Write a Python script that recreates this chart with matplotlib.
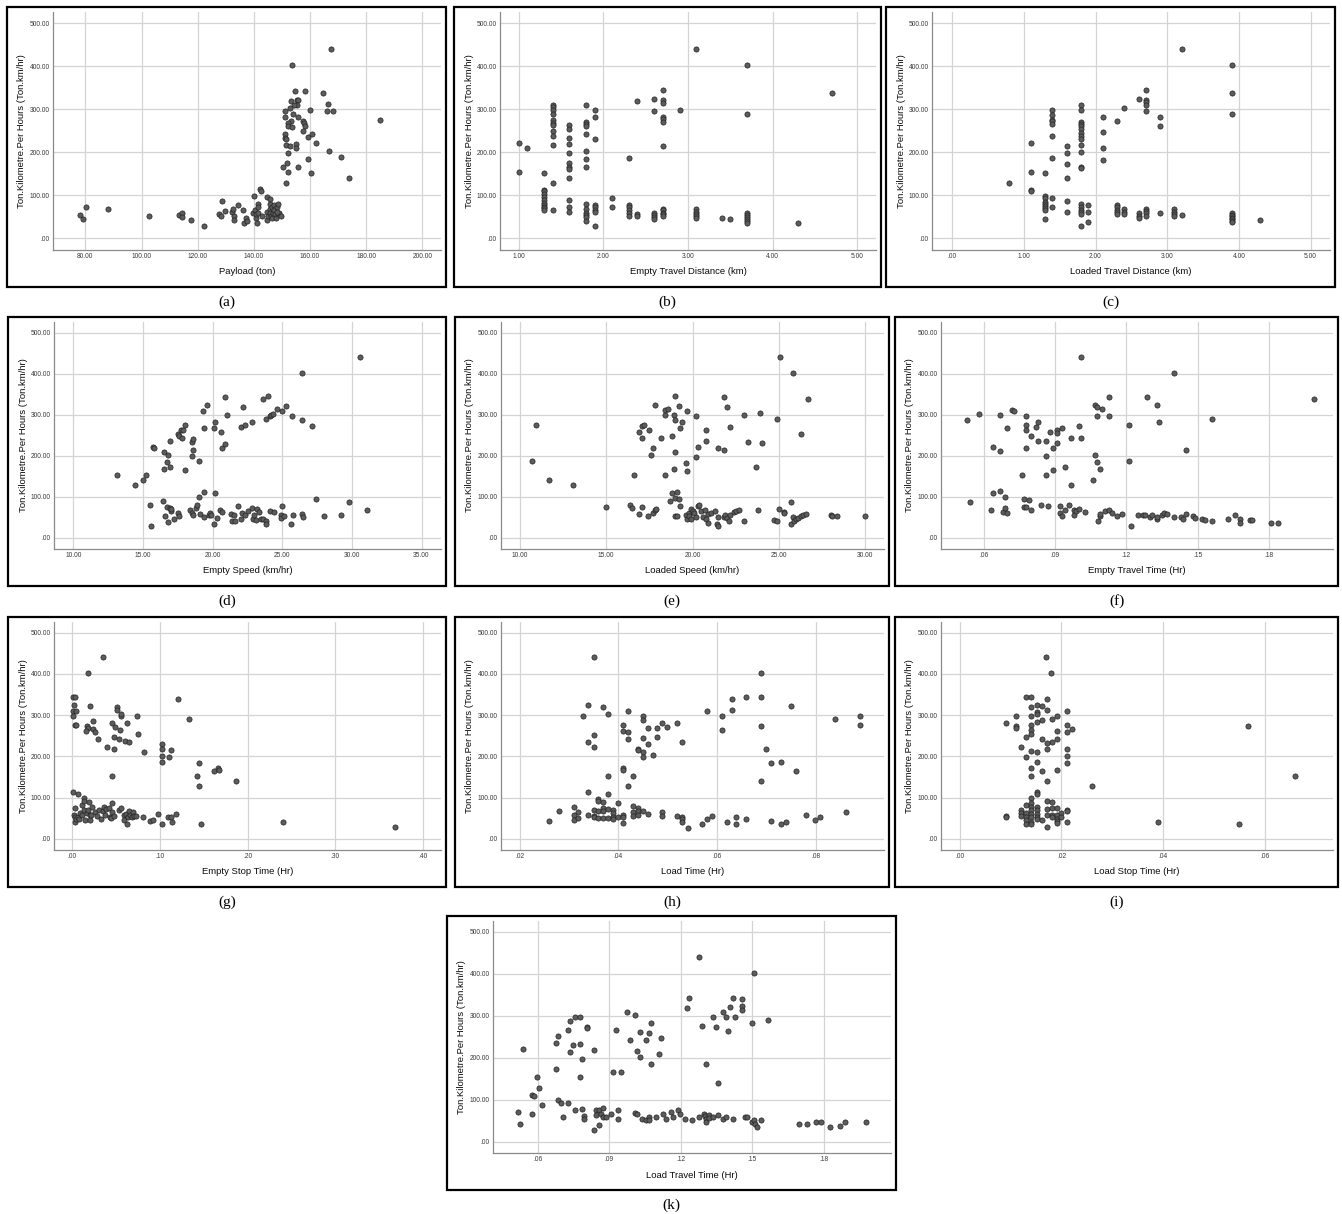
import matplotlib
matplotlib.use("Agg")
import matplotlib.pyplot as plt
from matplotlib.patches import Rectangle

# ---------------- data ----------------
Y_LABEL = "Ton.Kilometre.Per Hours (Ton.km/hr)"
y_ticks = [0, 100, 200, 300, 400, 500]

# (a) Payload (ton)
payload = [78.0, 79.1, 80.1, 88.2, 102.8, 113.3, 114.4, 114.4, 117.6, 122.4,
           127.7, 128.4, 128.8, 129.6, 132.2, 132.7, 132.9, 132.9, 134.5, 136.0,
           136.5, 137.3, 137.5, 139.6, 140.0, 140.3, 140.6, 140.8, 141.2, 141.4,
           141.4, 141.6, 142.2, 142.5, 142.8, 144.5, 144.7, 144.8, 145.2, 145.6,
           145.8, 145.6, 145.9, 146.2, 146.4, 146.6, 146.7, 147.1, 147.3, 147.5,
           147.8, 148.1, 148.5, 148.7, 149.1, 149.5, 148.1,
           167.3, 153.7, 154.6, 158.2, 164.6, 153.1, 155.2, 155.6, 155.4, 154.3,
           152.7, 151.2, 166.3, 166.1, 168.3, 159.9, 184.8, 150.9, 153.9, 155.7,
           153.1, 152.3, 152.3, 153.7, 157.6, 157.8, 158.2, 157.5, 151.2, 150.9,
           151.6, 159.1, 160.6, 162.0, 151.4, 152.7, 155.0, 154.9, 152.1, 166.7,
           171.0, 159.3, 150.4, 151.9, 155.8, 152.1, 160.3, 173.7, 151.6]
tkph_payload = [55, 44, 72, 68, 53, 55, 59, 50, 43, 29,
                57, 52, 88, 64, 62, 68, 52, 42, 78, 65,
                36, 47, 40, 60, 98, 67, 48, 56, 36, 80,
                74, 58, 114, 110, 53, 95, 43, 62, 53, 91,
                80, 68, 60, 51, 47, 72, 58, 78, 66, 56,
                47, 73, 79, 57, 60, 53, 62,
                440, 402, 343, 343, 338, 319, 322, 322, 310, 309,
                303, 297, 313, 297, 297, 298, 275, 281, 289, 281,
                272, 267, 262, 258, 273, 267, 262, 250, 243, 233,
                230, 236, 243, 222, 217, 215, 219, 211, 198, 202,
                188, 184, 167, 175, 165, 154, 153, 140, 129]

# (b) Empty Travel Distance (km)
empty_dist = [1.0, 1.0, 1.1,
              1.3, 1.3, 1.3, 1.3, 1.3, 1.3, 1.3, 1.3, 1.3, 1.3, 1.3,
              1.4, 1.4, 1.4, 1.4, 1.4, 1.4, 1.4, 1.4, 1.4, 1.4, 1.4, 1.4,
              1.6, 1.6, 1.6, 1.6, 1.6, 1.6, 1.6, 1.6, 1.6, 1.6, 1.6, 1.6,
              1.8, 1.8, 1.8, 1.8, 1.8, 1.8, 1.8, 1.8, 1.8, 1.8, 1.8, 1.8, 1.8, 1.8,
              1.9, 1.9, 1.9, 1.9, 1.9, 1.9, 1.9, 1.9,
              2.1, 2.1,
              2.3, 2.3, 2.3, 2.3, 2.3, 2.3,
              2.4, 2.4, 2.4,
              2.6, 2.6, 2.6, 2.6, 2.6, 2.6,
              2.7, 2.7, 2.7, 2.7, 2.7, 2.7, 2.7, 2.7, 2.7, 2.7, 2.7, 2.7,
              2.9,
              3.1, 3.1, 3.1, 3.1, 3.1, 3.1,
              3.4, 3.5,
              3.7, 3.7, 3.7, 3.7, 3.7, 3.7, 3.7, 3.7,
              4.3, 4.7]
tkph_empty_dist = [222, 154, 211,
                   153, 113, 110, 103, 97, 90, 83, 78, 74, 70, 67,
                   309, 305, 299, 288, 276, 269, 263, 249, 237, 218, 129, 65,
                   263, 254, 234, 219, 198, 174, 166, 162, 140, 89, 72, 61,
                   310, 270, 266, 260, 243, 203, 184, 166, 80, 68, 60, 55, 50, 40,
                   298, 281, 230, 78, 72, 65, 62, 28,
                   94, 74,
                   187, 77, 72, 66, 60, 53,
                   320, 56, 52,
                   325, 297, 60, 55, 50, 46,
                   344, 322, 315, 282, 277, 271, 215, 68, 65, 60, 56, 52,
                   298,
                   440, 68, 62, 57, 52, 47,
                   47, 44,
                   402, 290, 58, 54, 50, 45, 40, 36,
                   36, 338]

# (c) Loaded Travel Distance (km)
loaded_dist = [0.8,
               1.1, 1.1, 1.1, 1.1,
               1.3, 1.3, 1.3, 1.3, 1.3, 1.3, 1.3, 1.3, 1.3,
               1.4, 1.4, 1.4, 1.4, 1.4, 1.4, 1.4, 1.4, 1.4,
               1.6, 1.6, 1.6, 1.6, 1.6, 1.6,
               1.8, 1.8, 1.8, 1.8, 1.8, 1.8, 1.8, 1.8, 1.8, 1.8,
               1.8, 1.8, 1.8, 1.8, 1.8, 1.8, 1.8, 1.8, 1.8,
               1.9, 1.9, 1.9,
               2.1, 2.1, 2.1, 2.1,
               2.3, 2.3, 2.3, 2.3, 2.3, 2.3,
               2.4, 2.4, 2.4, 2.4,
               2.6, 2.6, 2.6, 2.6,
               2.7, 2.7, 2.7, 2.7, 2.7, 2.7, 2.7, 2.7, 2.7,
               2.9, 2.9, 2.9,
               3.1, 3.1, 3.1, 3.1,
               3.2, 3.2,
               3.9, 3.9, 3.9, 3.9, 3.9, 3.9, 3.9, 3.9, 3.9, 3.9,
               4.3]
tkph_loaded_dist = [129,
                    221, 154, 113, 110,
                    153, 98, 93, 85, 80, 75, 70, 67, 44,
                    298, 287, 276, 272, 266, 237, 187, 93, 73,
                    214, 198, 173, 140, 88, 61,
                    310, 298, 271, 266, 260, 253, 245, 237, 230, 217,
                    201, 167, 163, 80, 72, 67, 62, 57, 28,
                    77, 62, 39,
                    281, 248, 210, 183,
                    272, 77, 72, 67, 62, 56,
                    302, 68, 62, 56,
                    324, 58, 53, 48,
                    344, 322, 316, 310, 297, 68, 63, 58, 53,
                    281, 262, 59,
                    68, 62, 57, 52,
                    440, 55,
                    402, 338, 290, 58, 55, 51, 48, 45, 41, 37,
                    43]

# (d) Empty Speed (km/hr)
empty_speed = [13.1, 14.4, 15.0, 15.2, 15.7, 15.8, 16.5, 16.5, 16.7, 16.8,
               16.9, 16.9, 17.5, 17.6, 17.7, 17.8, 17.9, 18.0, 18.0, 18.5,
               18.5, 18.6, 18.6, 19.0, 19.3, 19.4, 19.6, 20.1, 20.2, 20.6,
               20.7, 20.9, 20.9, 21.0, 22.0, 22.2, 22.3, 22.8, 23.6, 23.8,
               24.0, 24.1, 24.2, 24.3, 24.6, 25.0, 25.3, 25.7, 26.4, 26.4,
               27.1, 30.6,
               15.5, 15.6, 16.4, 16.6, 16.7, 16.8, 16.9, 17.0, 17.0, 17.2,
               17.5, 17.6, 18.4, 18.5, 18.6, 18.8, 18.9, 19.0, 19.1, 19.4,
               19.4, 19.7, 19.8, 19.9, 20.1, 20.2, 20.3, 20.5, 20.7, 21.3,
               21.4, 21.5, 21.6, 21.8, 22.0, 22.1, 22.3, 22.5, 22.8, 22.9,
               23.0, 23.1, 23.2, 23.3, 23.5, 23.6, 23.8, 23.8, 24.1, 24.4,
               24.9, 24.9, 25.0, 25.1, 25.6, 25.8, 26.4, 26.5, 27.4, 28.0,
               29.2, 29.8, 31.1]
tkph_empty_speed = [153, 128, 140, 153, 222, 218, 210, 167, 184, 201,
                    237, 172, 253, 248, 262, 244, 263, 274, 165, 234,
                    199, 242, 215, 187, 310, 267, 325, 267, 282, 258,
                    219, 230, 344, 299, 270, 320, 275, 282, 339, 289,
                    345, 297, 300, 303, 313, 310, 322, 298, 288, 402,
                    273, 440,
                    80, 28, 91, 53, 75, 38, 74, 65, 70, 46,
                    60, 54, 68, 60, 55, 72, 80, 99, 58, 51,
                    113, 57, 60, 56, 34, 110, 48, 67, 63, 58,
                    42, 55, 42, 77, 45, 60, 55, 66, 72, 47,
                    55, 44, 70, 64, 45, 47, 40, 34, 66, 63,
                    57, 48, 77, 53, 35, 55, 59, 52, 94, 54,
                    57, 87, 67]

# (e) Loaded Speed (km/hr)
loaded_speed = [10.7, 10.9, 11.7, 13.1, 16.6, 16.9, 17.1, 17.1, 17.2, 17.5,
                17.6, 17.7, 17.8, 18.2, 18.4, 18.4, 18.4, 18.6, 18.8, 18.9,
                18.9, 19.0, 19.0, 19.0, 19.2, 19.3, 19.4, 19.6, 19.7, 19.7,
                20.2, 20.2, 20.3, 20.8, 20.8, 21.5, 21.8, 21.8, 22.0, 22.2,
                23.0, 23.2, 23.7, 23.9, 24.0, 24.9, 25.1, 25.8, 26.3, 26.7,
                15.0, 16.4, 16.5, 16.9, 17.1, 17.4, 17.7, 17.8, 17.9, 18.7,
                18.8, 19.0, 19.0, 19.1, 19.1, 19.2, 19.3, 19.6, 19.7, 19.8,
                19.8, 19.9, 19.9, 20.0, 20.1, 20.2, 20.3, 20.4, 20.5, 20.6,
                20.7, 20.8, 20.9, 20.9, 21.1, 21.3, 21.4, 21.5, 21.5, 21.8,
                21.9, 22.0, 22.1, 22.2, 22.4, 22.5, 22.7, 23.0, 23.8, 24.7,
                24.9, 25.0, 25.3, 25.3, 25.7, 25.7, 25.8, 25.9, 26.0, 26.1,
                26.3, 26.4, 26.6, 28.0, 28.1, 28.4, 30.0]
tkph_loaded_speed = [187, 276, 140, 128, 153, 258, 243, 273, 274, 262,
                     202, 218, 325, 243, 311, 300, 153, 313, 248, 167,
                     299, 345, 288, 210, 322, 267, 282, 183, 310, 164,
                     198, 298, 222, 237, 263, 219, 215, 344, 320, 271,
                     299, 234, 173, 304, 231, 290, 440, 402, 254, 339,
                     76, 80, 73, 58, 75, 54, 60, 67, 70, 91,
                     109, 54, 98, 113, 53, 94, 77, 55, 47, 60,
                     53, 71, 47, 65, 60, 52, 77, 80, 65, 50,
                     68, 46, 36, 58, 60, 66, 35, 52, 28, 50,
                     57, 48, 40, 55, 62, 66, 67, 41, 67, 43,
                     42, 71, 63, 60, 35, 87, 52, 40, 45, 49,
                     54, 57, 59, 57, 53, 53, 53]

# (f) Empty Travel Time (Hr)
empty_travel_time = [.0529, .058, .0668, .0638, .0668, .0699, .0719, .0729, .0779, .0779,
                     .0779, .0779, .0759, .0799, .082, .083, .083, .086, .086, .086,
                     .088, .089, .089, .0909, .0909, .0909, .0929, .094, .0969, .0969,
                     .1, .101, .101, .106, .1068, .1068, .1078, .1078, .1078, .1089,
                     .1099, .1129, .1129, .121, .121, .1289, .1329, .1339, .14, .145,
                     .156, .1989,
                     .054, .063, .064, .0668, .0679, .0689, .0689, .0699, .0769, .0769,
                     .0779, .0789, .0799, .084, .087, .0919, .0919, .0929, .094, .0959,
                     .0978, .0978, .0988, .1, .1028, .1079, .1089, .1089, .1109, .1129,
                     .1139, .116, .118, .122, .125, .127, .128, .13, .131, .1329,
                     .133, .1349, .136, .137, .14, .143, .144, .145, .148, .149,
                     .152, .153, .156, .1629, .1658, .1678, .1678, .1719, .1728, .1809,
                     .1839]
tkph_empty_travel_time = [288, 303, 299, 222, 211, 268, 311, 310, 298, 275,
                          263, 220, 154, 249, 271, 282, 237, 235, 199, 153,
                          258, 218, 165, 263, 255, 231, 267, 173, 244, 129,
                          273, 244, 441, 141, 202, 323, 319, 297, 185, 167,
                          313, 344, 298, 276, 187, 344, 325, 282, 402, 215,
                          290, 339,
                          88, 69, 110, 115, 64, 99, 72, 60, 94, 76,
                          76, 92, 69, 80, 77, 77, 61, 54, 69, 80,
                          69, 57, 65, 70, 62, 40, 54, 59, 65, 68,
                          60, 53, 59, 29, 57, 56, 55, 52, 55, 47,
                          52, 56, 60, 59, 52, 51, 47, 58, 54, 49,
                          47, 44, 41, 47, 55, 47, 37, 43, 43, 36,
                          36]

# (g) Empty Stop Time (Hr)
empty_stop_time = [.0008, .0034, .0023, .0008, .0042, .0008, .003, .0042, .0182, .0349,
                   .02, .0167, .0182, .0152, .0231, .0235, .0262, .0292, .0391, .0455,
                   .047, .0478, .0486, .0505, .0509, .0531, .0543, .0554, .0558, .0596,
                   .0619, .0649, .0448, .074, .0755, .082, .1021, .1028, .1028, .1021,
                   .1104, .1127, .1207, .1328, .145, .1427, .145, .1617, .1658, .167,
                   .1871,
                   .0011, .0061, .003, .0023, .0034, .0034, .0046, .0065, .008, .0087,
                   .011, .011, .0129, .0129, .0137, .014, .0167, .0178, .0186, .0197,
                   .0201, .022, .0216, .0262, .0277, .03, .033, .0349, .036, .0372,
                   .0383, .0414, .0433, .0444, .0452, .0455, .0478, .0531, .0554, .0584,
                   .0592, .0607, .0619, .063, .0641, .0657, .0676, .0687, .0702, .0729,
                   .0812, .0888, .0922, .0979, .1021, .1097, .1131, .1135, .118, .1469,
                   .241, .3689]
tkph_empty_stop_time = [344, 344, 325, 310, 310, 299, 276, 277, 403, 442,
                        323, 274, 269, 262, 287, 266, 258, 243, 222, 282,
                        248, 217, 271, 319, 313, 243, 263, 298, 303, 237,
                        282, 235, 153, 298, 254, 210, 231, 219, 202, 186,
                        198, 215, 339, 290, 184, 152, 128, 164, 173, 167,
                        140,
                        113, 109, 76, 58, 53, 41, 47, 52, 47, 63,
                        57, 81, 69, 98, 92, 46, 62, 70, 90, 57,
                        45, 77, 59, 65, 56, 69, 49, 67, 77, 57,
                        73, 76, 54, 50, 87, 65, 55, 69, 74, 57,
                        45, 60, 36, 52, 67, 58, 52, 64, 56, 56,
                        54, 43, 46, 60, 35, 52, 54, 40, 60, 35,
                        40, 28]

# (h) Load Time (Hr)
load_time = [.035, .0339, .0329, .0369, .0378, .0339, .035, .035, .0379, .0419,
             .041, .041, .0419, .0419, .041, .041, .0429, .0419, .0449, .0449,
             .044, .044, .0449, .0449, .0449, .0459, .0459, .0469, .0479, .0479,
             .0489, .0499, .0519, .0529, .058, .061, .061, .063, .063, .0659,
             .0689, .0689, .0689, .0689, .0699, .0709, .0729, .0749, .0759, .0839,
             .0889, .0889,
             .0259, .0279, .0309, .0309, .0309, .0319, .0319, .0339, .0339, .035,
             .035, .035, .0359, .0359, .0359, .0359, .0369, .0369, .0369, .0369,
             .0379, .0379, .0379, .0389, .0389, .0389, .0389, .0399, .0399, .041,
             .041, .041, .0429, .0429, .0429, .044, .044, .044, .0449, .0459,
             .0489, .0489, .0519, .0529, .0529, .0529, .054, .057, .058, .0589,
             .062, .0639, .0639, .0659, .0709, .0729, .0739, .0779, .0799, .0809,
             .086]
tkph_load_time = [442, 325, 299, 320, 303, 236, 253, 223, 153, 310,
                  275, 262, 258, 243, 173, 167, 152, 128, 299, 288,
                  219, 216, 244, 210, 198, 268, 231, 203, 248, 268,
                  282, 271, 282, 235, 310, 297, 264, 340, 312, 344,
                  402, 344, 273, 140, 217, 184, 186, 323, 165, 291,
                  298, 277,
                  43, 67, 78, 57, 45, 65, 50, 113, 59, 71,
                  56, 53, 97, 92, 67, 51, 90, 75, 67, 51,
                  109, 73, 51, 70, 63, 53, 48, 86, 53, 58,
                  53, 38, 79, 66, 56, 74, 67, 58, 67, 60,
                  64, 56, 56, 53, 47, 40, 27, 35, 47, 56,
                  40, 53, 35, 48, 44, 35, 40, 58, 45, 52,
                  64]

# (i) Load Stop Time (Hr)
load_stop_time = [.0169, .0179, .0131, .014, .0171, .0151, .0161, .014, .0171, .0151,
                  .0151, .011, .014, .0191, .021, .0091, .0151, .0161, .0181, .011,
                  .011, .014, .021, .0221, .014, .0191, .014, .021, .013, .0161,
                  .0191, .0181, .0171, .0171, .021, .012, .014, .0151, .013, .021,
                  .0151, .021, .014, .0161, .0191, .014, .0171, .026, .0567, .066,
                  .0091, .0091, .012, .012, .012, .013, .013, .013, .013, .013,
                  .014, .014, .014, .014, .014, .014, .014, .014, .0151, .0151,
                  .0151, .0151, .0151, .0151, .0151, .0161, .0171, .0171, .0171, .0171,
                  .0181, .0181, .0181, .0181, .0191, .0191, .0191, .0191, .0191, .02,
                  .02, .021, .021, .021, .039, .055]
tkph_load_stop_time = [441, 403, 344, 344, 339, 324, 323, 319, 313, 308,
                       302, 299, 297, 299, 311, 282, 283, 288, 290, 274,
                       268, 276, 275, 267, 264, 262, 254, 258, 248, 243,
                       243, 236, 232, 219, 217, 222, 214, 211, 198, 202,
                       187, 184, 173, 165, 167, 152, 140, 129, 274, 153,
                       55, 53, 70, 62, 56, 81, 62, 53, 45, 37,
                       98, 87, 77, 69, 61, 53, 42, 35, 113, 109,
                       77, 69, 61, 54, 48, 46, 93, 73, 57, 28,
                       90, 76, 59, 53, 76, 57, 49, 43, 38, 62,
                       54, 70, 67, 42, 42, 36]

# (k) Load Travel Time (Hr)
load_travel_time = [.0537, .0597, .0607, .0578, .0587, .0677, .0677, .0687, .0728, .0738,
                    .0738, .0748, .0758, .0777, .0777, .0777, .0787, .0806, .0806, .0837,
                    .0918, .0928, .0948, .0977, .0987, .1008, .1017, .1028, .1028, .1057,
                    .1067, .1077, .1077, .1108, .1118, .1227, .1237, .1278, .1288, .1307,
                    .1338, .1348, .1358, .1379, .1389, .1398, .1408, .1418, .1428, .1459,
                    .1459, .1459, .15, .1508, .1568,
                    .0516, .0527, .0576, .0617, .0687, .0697, .0707, .0728, .0758, .0787,
                    .0796, .0796, .0837, .0847, .0847, .0857, .0857, .0867, .0876, .0876,
                    .0888, .0907, .0937, .0937, .1007, .1018, .1038, .1057, .1067, .1067,
                    .1098, .1128, .1137, .1158, .1168, .1188, .1198, .1217, .1248, .1278,
                    .1297, .1303, .1307, .1307, .1318, .1318, .1338, .1358, .1379, .1389,
                    .1418, .1469, .1478, .1498, .1508, .1514, .152, .1539, .1699, .1731,
                    .1769, .179, .1829, .187, .1889, .1979]
tkph_load_travel_time = [222, 153, 128, 112, 110, 173, 236, 253, 267, 287,
                         214, 230, 298, 297, 234, 153, 197, 274, 270, 218,
                         165, 266, 167, 310, 242, 302, 216, 262, 201, 243,
                         258, 282, 185, 210, 248, 319, 343, 440, 276, 186,
                         297, 273, 140, 309, 297, 263, 322, 343, 297, 339,
                         323, 313, 282, 402, 289,
                         71, 43, 67, 87, 99, 91, 60, 93, 75, 79,
                         62, 55, 28, 75, 63, 76, 40, 67, 81, 58,
                         60, 65, 76, 54, 69, 67, 55, 51, 58, 52,
                         59, 67, 54, 71, 59, 76, 67, 55, 52, 60,
                         67, 61, 55, 47, 64, 57, 58, 63, 55, 58,
                         55, 59, 59, 47, 52, 41, 36, 51, 42, 43,
                         46, 48, 36, 37, 47, 47]

# ---------------- figure ----------------
W, H = 1342, 1214
fig = plt.figure(figsize=(W / 100, H / 100), dpi=100)
fig.patch.set_facecolor("white")

SANS = ["Liberation Sans", "DejaVu Sans"]
SERIF = ["Liberation Serif", "DejaVu Serif"]


def spss_fmt(v):
    s = f"{v:.2f}"
    if s.startswith("0."):
        s = s[1:]
    return s


def panel(box, x, y, xlim, xticks, xlabel, caption):
    x0, y0, x1, y1 = box
    fig.patches.append(Rectangle((x0 / W, 1 - y1 / H), (x1 - x0) / W, (y1 - y0) / H,
                                 transform=fig.transFigure, fill=False,
                                 lw=1.6, ec="black", zorder=0))
    al, ar, at, ab = x0 + 46, x1 - 5, y0 + 5, y1 - 37
    aw, ah = ar - al, ab - at
    ax = fig.add_axes([al / W, 1 - ab / H, aw / W, ah / H])
    ax.set_facecolor("white")
    ax.scatter(x, y, s=14, c="#5c5c5c", edgecolors="#222222", linewidths=0.5, zorder=3)
    ax.set_xlim(*xlim)
    ax.set_ylim(-27, 526)
    ax.set_xticks(xticks)
    ax.set_xticklabels([spss_fmt(v) for v in xticks])
    ax.set_yticks(y_ticks)
    ax.set_yticklabels([spss_fmt(v) for v in y_ticks])
    ax.tick_params(length=0, labelsize=4.8, labelcolor="#3a3a3a", pad=2.5)
    for lab in ax.get_xticklabels() + ax.get_yticklabels():
        lab.set_fontfamily(SANS)
    ax.grid(True, color="#d4d4d4", lw=0.9)
    ax.set_axisbelow(True)
    for side in ("top", "right"):
        ax.spines[side].set_visible(False)
    for side in ("left", "bottom"):
        ax.spines[side].set_color("#8a8a8a")
        ax.spines[side].set_linewidth(0.9)
    ax.set_xlabel(xlabel, fontsize=6.8, family=SANS, color="#0a0a0a")
    ax.xaxis.set_label_coords(0.5, -22 / ah)
    ax.xaxis.label.set_va("center")
    ax.set_ylabel(Y_LABEL, fontsize=6.8, family=SANS, color="#0a0a0a")
    ax.yaxis.set_label_coords(-31 / aw, 0.5)
    ax.yaxis.label.set_va("center")
    fig.text((x0 + x1) / 2 / W, 1 - (y1 + 15) / H, caption, ha="center", va="center",
             fontsize=11, family=SERIF)
    return ax


panel((7, 7, 446, 287), payload, tkph_payload, (68.5, 206.6),
      [80, 100, 120, 140, 160, 180, 200], "Payload (ton)", "(a)")
panel((454, 7, 881, 287), empty_dist, tkph_empty_dist, (0.78, 5.22),
      [1, 2, 3, 4, 5], "Empty Travel Distance (km)", "(b)")
panel((886, 7, 1335, 287), loaded_dist, tkph_loaded_dist, (-0.28, 5.27),
      [0, 1, 2, 3, 4, 5], "Loaded Travel Distance (km)", "(c)")

panel((8, 317, 446, 586), empty_speed, tkph_empty_speed, (8.6, 36.4),
      [10, 15, 20, 25, 30, 35], "Empty Speed (km/hr)", "(d)")
panel((455, 317, 889, 586), loaded_speed, tkph_loaded_speed, (8.9, 31.1),
      [10, 15, 20, 25, 30], "Loaded Speed (km/hr)", "(e)")
panel((895, 317, 1338, 586), empty_travel_time, tkph_empty_travel_time, (0.042, 0.207),
      [0.06, 0.09, 0.12, 0.15, 0.18], "Empty Travel Time (Hr)", "(f)")

panel((8, 617, 446, 887), empty_stop_time, tkph_empty_stop_time, (-0.021, 0.421),
      [0.0, 0.1, 0.2, 0.3, 0.4], "Empty Stop Time (Hr)", "(g)")
panel((455, 617, 889, 887), load_time, tkph_load_time, (0.0162, 0.0938),
      [0.02, 0.04, 0.06, 0.08], "Load Time (Hr)", "(h)")
panel((895, 617, 1338, 887), load_stop_time, tkph_load_stop_time, (-0.0037, 0.0734),
      [0.0, 0.02, 0.04, 0.06], "Load Stop Time (Hr)", "(i)")

panel((447, 916, 896, 1190), load_travel_time, tkph_load_travel_time, (0.0413, 0.2083),
      [0.06, 0.09, 0.12, 0.15, 0.18], "Load Travel Time (Hr)", "(k)")

fig.savefig("out.png", dpi=100, facecolor="white")
